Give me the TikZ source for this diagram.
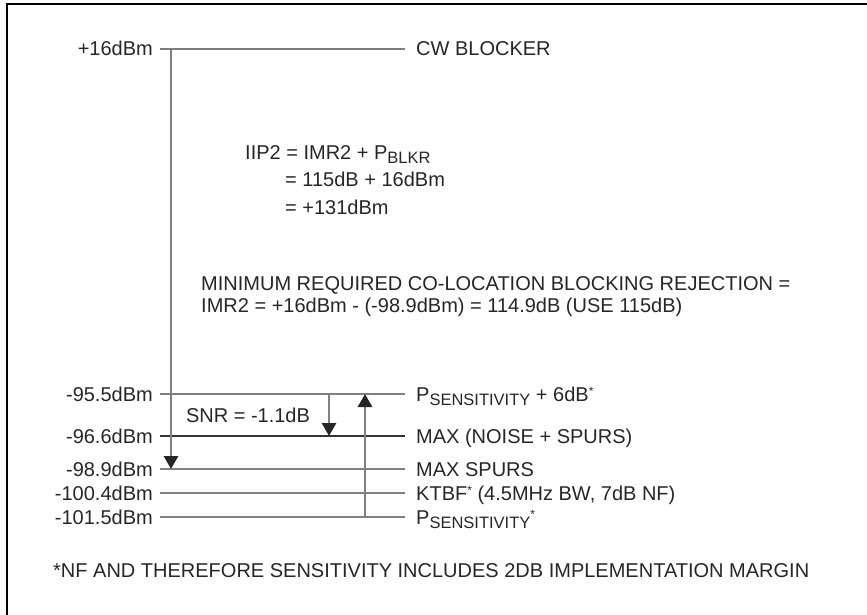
\documentclass[tikz,border=0pt]{standalone}
\usepackage{fontspec}
\setmainfont{Liberation Sans}
\usetikzlibrary{arrows.meta}
\newcommand\subtxt[1]{\raisebox{-4pt}{\fontsize{16.5}{16.5}\selectfont #1}}
\newcommand\startxt{\raisebox{6pt}{\fontsize{12}{12}\selectfont *}}
\begin{document}
\begin{tikzpicture}[x=1pt,y=-1pt,
  lbl/.style={font=\fontsize{20}{22}\selectfont, inner sep=0pt, text=black!85},
  lvl/.style={line width=2.8pt, draw=black!50},
  dark/.style={line width=2.8pt, draw=black!80},
  tipd/.style={-{Triangle[width=14pt,length=13pt,color=black!85]}}]
\useasboundingbox (0,0) rectangle (867,615);
\draw[line width=2pt] (7,615) -- (7,4.5) -- (867,4.5);

% +16dBm level
\node[lbl,anchor=base east] (l0) at (153,56) {+16dBm};
\node[lbl,anchor=base west] (r0) at (416,56) {CW BLOCKER};
\coordinate (a0) at (160,49);
\coordinate (b0) at (405,49);
\coordinate (v0) at (171,49);
\draw[lvl] (a0) -- (b0);

% levels
\node[lbl,anchor=base east] (l1) at (153,401) {-95.5dBm};
\node[lbl,anchor=base west] (r1) at (416,401) {P\subtxt{SENSITIVITY} + 6dB\startxt};
\coordinate (a1) at (160,394);
\coordinate (b1) at (405,394);
\draw[lvl] (a1) -- (b1);

\node[lbl,anchor=base east] (l2) at (153,443) {-96.6dBm};
\node[lbl,anchor=base west] (r2) at (416,443) {MAX (NOISE + SPURS)};
\coordinate (a2) at (160,436);
\coordinate (b2) at (405,436);
\draw[dark] (a2) -- (b2);

\node[lbl,anchor=base east] (l3) at (153,476) {-98.9dBm};
\node[lbl,anchor=base west] (r3) at (416,476) {MAX SPURS};
\coordinate (a3) at (160,469);
\coordinate (b3) at (405,469);
\coordinate (v3) at (171,469);
\draw[lvl] (a3) -- (b3);

\node[lbl,anchor=base east] (l4) at (153,500) {-100.4dBm};
\node[lbl,anchor=base west] (r4) at (416,500) {KTBF\startxt{} (4.5MHz BW, 7dB NF)};
\coordinate (a4) at (160,493);
\coordinate (b4) at (405,493);
\draw[lvl] (a4) -- (b4);

\node[lbl,anchor=base east] (l5) at (153,524) {-101.5dBm};
\node[lbl,anchor=base west] (r5) at (416,524) {P\subtxt{SENSITIVITY}\startxt};
\coordinate (a5) at (160,517);
\coordinate (b5) at (405,517);
\draw[lvl] (a5) -- (b5);

% arrows
\draw[lvl,tipd] (v0) -- (v3);
\coordinate (d1) at (329,394);
\coordinate (d2) at (329,436);
\draw[lvl,tipd] (d1) -- (d2);
\coordinate (u1) at (365,517);
\coordinate (u2) at (365,394);
\draw[lvl,tipd] (u1) -- (u2);

\node[lbl,anchor=base] (snr) at (248,422) {SNR = -1.1dB};

% equations
\node[lbl,anchor=base west] (eq1) at (245,159) {IIP2 = IMR2 + P\subtxt{BLKR}};
\node[lbl,anchor=base west] (eq2) at (285,186) {= 115dB + 16dBm};
\node[lbl,anchor=base west] (eq3) at (285,214) {= +131dBm};
\node[lbl,anchor=base west] (min1) at (201,290) {MINIMUM REQUIRED CO-LOCATION BLOCKING REJECTION =};
\node[lbl,anchor=base west] (min2) at (201,312) {IMR2 = +16dBm - (-98.9dBm) = 114.9dB (USE 115dB)};

\node[lbl,anchor=base west] (fn) at (53,577) {*NF AND THEREFORE SENSITIVITY INCLUDES 2DB IMPLEMENTATION MARGIN};
\end{tikzpicture}
\end{document}
